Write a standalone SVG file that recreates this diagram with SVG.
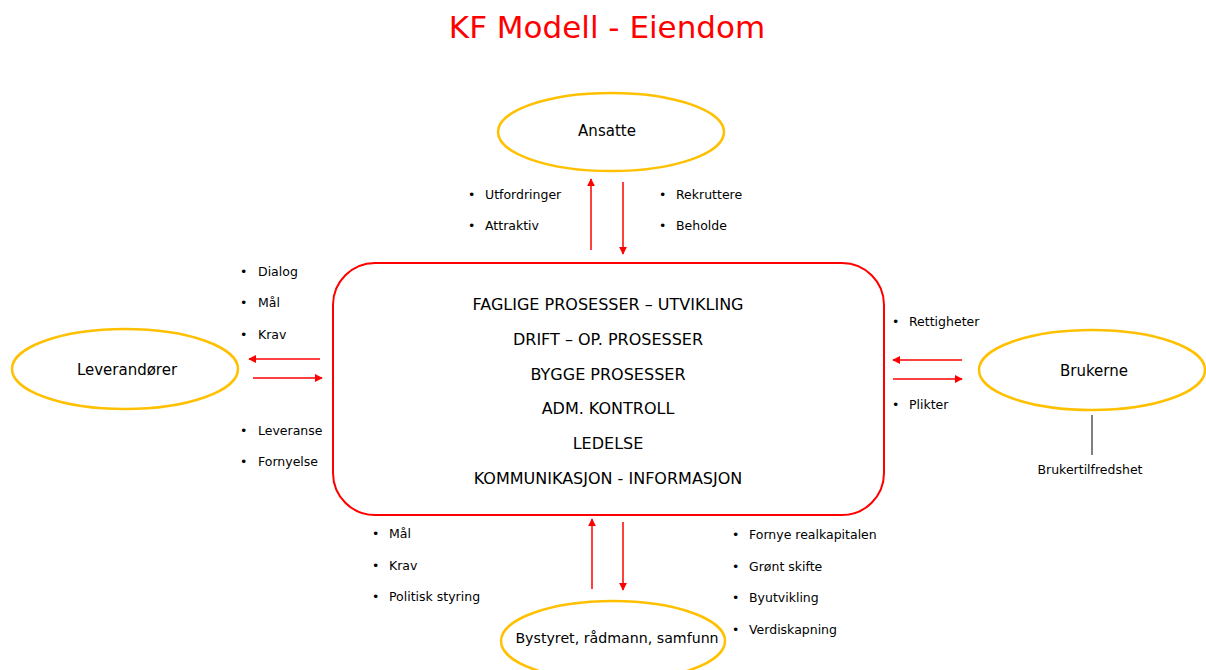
<svg xmlns="http://www.w3.org/2000/svg" width="1206" height="670" viewBox="0 0 1206 670">
<style>
text{font-family:"DejaVu Sans","Liberation Sans",sans-serif;fill:#000}
.title{font-size:31px;fill:#ff0000;text-anchor:middle}
.node{fill:#fff;stroke:#ffc000;stroke-width:2.5}
.nt{font-size:15px;text-anchor:middle}
.ct{font-size:16px;text-anchor:middle}
.b{font-size:12.5px}
.bul{font-size:12.5px}
.arr{stroke:#ff0000;stroke-width:1.5;fill:none;marker-end:url(#ah)}
</style>
<defs>
<marker id="ah" viewBox="0 0 10 10" refX="9" refY="5" markerWidth="8" markerHeight="8" markerUnits="userSpaceOnUse" orient="auto">
<path d="M0,0 L10,5 L0,10 z" fill="#ff0000"/>
</marker>
</defs>
<rect width="1206" height="670" fill="#fff"/>
<text class="title" x="607" y="38">KF Modell - Eiendom</text>

<g id="center">
<rect x="333" y="263" width="551" height="252" rx="42" ry="42" fill="#fff" stroke="#ff0000" stroke-width="2"/>
<text class="ct" x="608" y="310">FAGLIGE PROSESSER – UTVIKLING</text>
<text class="ct" x="608" y="345">DRIFT – OP. PROSESSER</text>
<text class="ct" x="608" y="380">BYGGE PROSESSER</text>
<text class="ct" x="608" y="414">ADM. KONTROLL</text>
<text class="ct" x="608" y="449">LEDELSE</text>
<text class="ct" x="608" y="484">KOMMUNIKASJON - INFORMASJON</text>
</g>

<g id="ansatte">
<ellipse class="node" cx="611" cy="132" rx="113" ry="39"/>
<text class="nt" x="607" y="136">Ansatte</text>
</g>
<g id="leverandorer">
<ellipse class="node" cx="125" cy="369" rx="113" ry="40"/>
<text class="nt" x="127" y="375">Leverandører</text>
</g>
<g id="brukerne">
<ellipse class="node" cx="1092" cy="370" rx="113" ry="40"/>
<text class="nt" x="1094" y="376">Brukerne</text>
</g>
<g id="bystyret">
<ellipse class="node" cx="613" cy="641" rx="112" ry="40"/>
<text class="nt" x="617" y="643" style="font-size:14.2px">Bystyret, rådmann, samfunn</text>
</g>

<g id="connectors">
<line class="arr" x1="591" y1="250" x2="591" y2="179"/>
<line class="arr" x1="623" y1="182" x2="623" y2="254"/>
<line class="arr" x1="320" y1="359" x2="249" y2="359"/>
<line class="arr" x1="253" y1="378" x2="322" y2="378"/>
<line class="arr" x1="962" y1="360" x2="893" y2="360"/>
<line class="arr" x1="893" y1="379" x2="962" y2="379"/>
<line class="arr" x1="592" y1="589" x2="592" y2="519"/>
<line class="arr" x1="623" y1="522" x2="623" y2="590"/>
<line x1="1092" y1="415" x2="1092" y2="455" stroke="#000" stroke-width="1"/>
</g>

<g id="labels">
<text class="b" x="1090" y="474" text-anchor="middle">Brukertilfredshet</text>

<text class="bul" x="468" y="199">•</text><text class="b" x="485" y="199">Utfordringer</text>
<text class="bul" x="468" y="230">•</text><text class="b" x="485" y="230">Attraktiv</text>
<text class="bul" x="659" y="199">•</text><text class="b" x="676" y="199">Rekruttere</text>
<text class="bul" x="659" y="230">•</text><text class="b" x="676" y="230">Beholde</text>

<text class="bul" x="240" y="276">•</text><text class="b" x="258" y="276">Dialog</text>
<text class="bul" x="240" y="307">•</text><text class="b" x="258" y="307">Mål</text>
<text class="bul" x="240" y="339">•</text><text class="b" x="258" y="339">Krav</text>
<text class="bul" x="240" y="435">•</text><text class="b" x="258" y="435">Leveranse</text>
<text class="bul" x="240" y="466">•</text><text class="b" x="258" y="466">Fornyelse</text>

<text class="bul" x="892" y="326">•</text><text class="b" x="909" y="326">Rettigheter</text>
<text class="bul" x="892" y="409">•</text><text class="b" x="909" y="409">Plikter</text>

<text class="bul" x="372" y="538">•</text><text class="b" x="389" y="538">Mål</text>
<text class="bul" x="372" y="570">•</text><text class="b" x="389" y="570">Krav</text>
<text class="bul" x="372" y="601">•</text><text class="b" x="389" y="601">Politisk styring</text>

<text class="bul" x="732" y="539">•</text><text class="b" x="749" y="539">Fornye realkapitalen</text>
<text class="bul" x="732" y="571">•</text><text class="b" x="749" y="571">Grønt skifte</text>
<text class="bul" x="732" y="602">•</text><text class="b" x="749" y="602">Byutvikling</text>
<text class="bul" x="732" y="634">•</text><text class="b" x="749" y="634">Verdiskapning</text>
</g>
</svg>
